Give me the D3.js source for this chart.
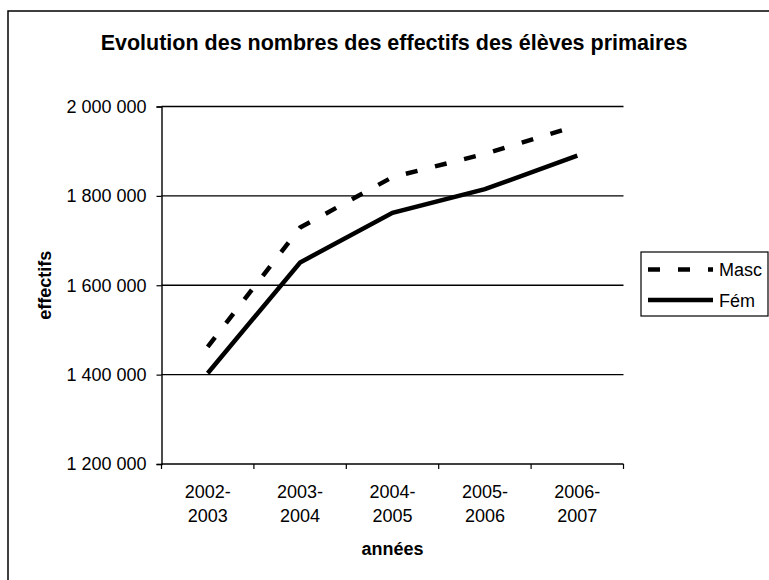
<!DOCTYPE html>
<html>
<head>
<meta charset="utf-8">
<script src="https://cdn.jsdelivr.net/npm/d3@7"></script>
<style>
  body { margin: 0; background: #fff; }
  text { font-family: Arial, "Liberation Sans", sans-serif; fill: #000; }
</style>
</head>
<body>
<script>
// data
var annees = ["2002-2003", "2003-2004", "2004-2005", "2005-2006", "2006-2007"];
var masc = [1462000, 1729000, 1842000, 1894000, 1957000];
var fem = [1403000, 1651000, 1762000, 1815000, 1890000];
var yTicks = [1200000, 1400000, 1600000, 1800000, 2000000];
var seriesNames = ["Masc", "Fém"];

var W = 769, H = 580;
var plotL = 161.5, plotR = 623.5, plotT = 106.5, plotB = 464;

var svg = d3.select("body").append("svg").attr("width", W).attr("height", H);

// outer chart border (cropped on right and bottom in the reference)
svg.append("rect")
    .attr("x", 8).attr("y", 11)
    .attr("width", 900).attr("height", 700)
    .attr("fill", "none").attr("stroke", "#000").attr("stroke-width", 1.5);

var x = d3.scaleBand().domain(annees).range([plotL, plotR]);
var y = d3.scaleLinear().domain([1200000, 2000000]).range([plotB, plotT]);

var fmt = d3.formatLocale({decimal: ",", thousands: " ", grouping: [3], currency: ["", " €"]}).format(",");

// gridlines
svg.selectAll("line.grid")
    .data(yTicks.slice(1))
    .enter().append("line")
        .attr("class", "grid")
        .attr("x1", plotL).attr("x2", plotR)
        .attr("y1", function (d) { return y(d); })
        .attr("y2", function (d) { return y(d); })
        .attr("stroke", "#000").attr("stroke-width", 1.4);

// y axis
var yAxis = svg.append("g")
    .attr("transform", "translate(" + plotL + ",0)")
    .call(d3.axisLeft(y).tickValues(yTicks).tickSize(5).tickPadding(10).tickFormat(fmt));
yAxis.select(".domain").attr("stroke", "#000").attr("stroke-width", 1.4);
yAxis.selectAll(".tick line").attr("stroke", "#000").attr("stroke-width", 1.2);
yAxis.selectAll(".tick text")
    .attr("font-size", "18px").attr("font-family", "Arial, 'Liberation Sans', sans-serif").attr("fill", "#000");

// x axis: ticks at band boundaries
var xg = svg.append("g");
xg.append("line")
    .attr("x1", plotL).attr("x2", plotR).attr("y1", plotB).attr("y2", plotB)
    .attr("stroke", "#000").attr("stroke-width", 1.4);
var bounds = annees.map(function (d) { return x(d); }).concat([plotR]);
xg.selectAll("line.xt")
    .data(bounds)
    .enter().append("line")
        .attr("class", "xt")
        .attr("x1", function (d) { return d; }).attr("x2", function (d) { return d; })
        .attr("y1", plotB).attr("y2", plotB + 5)
        .attr("stroke", "#000").attr("stroke-width", 1.2);

var xl = xg.selectAll("text.xl")
    .data(annees)
    .enter().append("text")
        .attr("class", "xl")
        .attr("text-anchor", "middle")
        .attr("font-size", "18px");
xl.append("tspan")
    .attr("x", function (d) { return x(d) + x.bandwidth() / 2; })
    .attr("y", 498)
    .text(function (d) { return d.split("-")[0] + "-"; });
xl.append("tspan")
    .attr("x", function (d) { return x(d) + x.bandwidth() / 2; })
    .attr("y", 521.5)
    .text(function (d) { return d.split("-")[1]; });

// titles
svg.append("text")
    .attr("x", 394).attr("y", 50)
    .attr("text-anchor", "middle")
    .attr("font-size", "21.5px").attr("font-weight", "bold")
    .text("Evolution des nombres des effectifs des élèves primaires");

svg.append("text")
    .attr("x", (plotL + plotR) / 2).attr("y", 555)
    .attr("text-anchor", "middle")
    .attr("font-size", "18px").attr("font-weight", "bold")
    .text("années");

svg.append("text")
    .attr("transform", "translate(51," + ((plotT + plotB) / 2) + ") rotate(-90)")
    .attr("text-anchor", "middle")
    .attr("font-size", "18px").attr("font-weight", "bold")
    .text("effectifs");

// lines
var line = d3.line()
    .x(function (d, i) { return x(annees[i]) + x.bandwidth() / 2; })
    .y(function (d) { return y(d); });

svg.append("path")
    .datum(masc)
    .attr("d", line)
    .attr("fill", "none").attr("stroke", "#000").attr("stroke-width", 4.5)
    .attr("stroke-dasharray", "12,18");

svg.append("path")
    .datum(fem)
    .attr("d", line)
    .attr("fill", "none").attr("stroke", "#000").attr("stroke-width", 4.5);

// legend
var lg = svg.append("g");
lg.append("rect")
    .attr("x", 641).attr("y", 252)
    .attr("width", 127).attr("height", 64)
    .attr("fill", "#fff").attr("stroke", "#000").attr("stroke-width", 1.2);
var dashes = ["12,18", null];
var ly = [269.5, 300];
seriesNames.forEach(function (name, i) {
    lg.append("line")
        .attr("x1", 648).attr("x2", 713)
        .attr("y1", ly[i]).attr("y2", ly[i])
        .attr("stroke", "#000").attr("stroke-width", 4.5)
        .attr("stroke-dasharray", dashes[i]);
    lg.append("text")
        .attr("x", 719).attr("y", ly[i] + 6.5)
        .attr("font-size", "18px")
        .text(name);
});
</script>
</body>
</html>
